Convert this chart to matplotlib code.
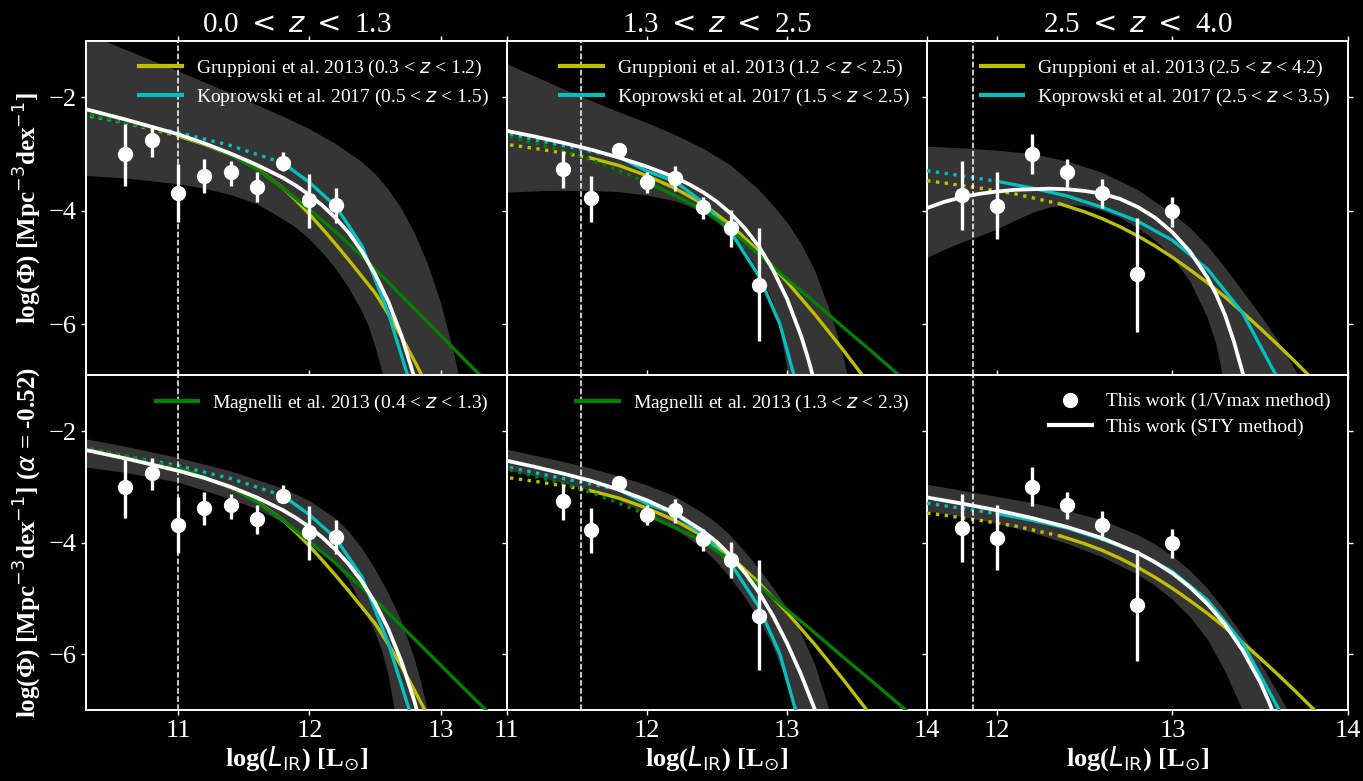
import numpy as np
import matplotlib
matplotlib.use("Agg")
import matplotlib.pyplot as plt
from matplotlib.lines import Line2D

plt.rcParams['font.family'] = 'serif'
plt.rcParams['font.serif'] = ['Liberation Serif', 'DejaVu Serif']
plt.rcParams['mathtext.fontset'] = 'dejavusans'

# ---------------- redshift bins ----------------
z_titles = ["0.0 $<$ $z$ $<$ 1.3", "1.3 $<$ $z$ $<$ 2.5", "2.5 $<$ $z$ $<$ 4.0"]
lum_limits = [11.0, 11.53, 11.86]
x_ranges = [(10.3, 13.5), (11.0, 14.0), (11.6, 14.0)]
x_ticks = [[11, 12, 13], [11, 12, 13, 14], [12, 13, 14]]

# ---------------- 1/Vmax points ----------------
vmax_lum_z1 = [10.6, 10.8, 11.0, 11.2, 11.4, 11.6, 11.8, 12.0, 12.2]
vmax_phi_z1 = [-3.00, -2.75, -3.68, -3.38, -3.32, -3.58, -3.16, -3.81, -3.89]
vmax_errhi_z1 = [0.53, 0.27, 0.50, 0.29, 0.20, 0.26, 0.19, 0.46, 0.29]
vmax_errlo_z1 = [0.56, 0.30, 0.51, 0.31, 0.25, 0.27, 0.13, 0.50, 0.32]

vmax_lum_z2 = [11.4, 11.6, 11.8, 12.0, 12.2, 12.4, 12.6, 12.8]
vmax_phi_z2 = [-3.26, -3.78, -2.93, -3.50, -3.42, -3.94, -4.31, -5.31]
vmax_errhi_z2 = [0.32, 0.40, 0.05, 0.18, 0.21, 0.18, 0.32, 1.00]
vmax_errlo_z2 = [0.33, 0.41, 0.05, 0.19, 0.23, 0.21, 0.32, 0.98]

vmax_lum_z3 = [11.8, 12.0, 12.2, 12.4, 12.6, 12.8, 13.0]
vmax_phi_z3 = [-3.73, -3.91, -3.00, -3.32, -3.69, -5.12, -4.01]
vmax_errhi_z3 = [0.61, 0.59, 0.35, 0.23, 0.25, 0.99, 0.26]
vmax_errlo_z3 = [0.61, 0.58, 0.35, 0.26, 0.26, 1.01, 0.27]

# ---------------- STY fits, free alpha (top row) ----------------
sty_lum_z1_free = [10.2, 10.4, 10.6, 10.8, 11.0, 11.2, 11.4, 11.6, 11.8, 11.9, 12.0, 12.1,
                   12.2, 12.3, 12.4, 12.5, 12.6, 12.7, 12.8, 12.85]
sty_phi_z1_free = [-2.15, -2.27, -2.39, -2.52, -2.65, -2.81, -2.99, -3.19, -3.42, -3.56, -3.72, -3.91,
                   -4.13, -4.39, -4.72, -5.12, -5.60, -6.20, -6.95, -7.40]
band_hi_lum_z1_free = [10.2, 10.6, 11.0, 11.4, 11.8, 12.0, 12.2, 12.4, 12.5, 12.6, 12.7, 12.8,
                       12.9, 13.0, 13.1, 13.15, 13.2]
band_hi_phi_z1_free = [-0.78, -1.16, -1.54, -1.93, -2.34, -2.56, -2.82, -3.14, -3.35, -3.62, -3.96, -4.39,
                       -4.93, -5.62, -6.50, -7.05, -7.60]
band_lo_lum_z1_free = [10.2, 10.6, 11.0, 11.2, 11.4, 11.6, 11.8, 11.9, 12.0, 12.1, 12.2, 12.3,
                       12.4, 12.45, 12.5, 12.55, 12.6]
band_lo_phi_z1_free = [-3.37, -3.43, -3.53, -3.61, -3.72, -3.88, -4.15, -4.30, -4.50, -4.74, -5.02, -5.36,
                       -5.77, -6.03, -6.38, -6.80, -7.30]

sty_lum_z2_free = [10.9, 11.0, 11.2, 11.4, 11.6, 11.8, 12.0, 12.2, 12.3, 12.4, 12.5, 12.6,
                   12.7, 12.8, 12.9, 13.0, 13.1, 13.15, 13.2, 13.25]
sty_phi_z2_free = [-2.54, -2.59, -2.69, -2.80, -2.92, -3.06, -3.22, -3.41, -3.53, -3.67, -3.84, -4.05,
                   -4.31, -4.63, -5.04, -5.55, -6.20, -6.60, -7.05, -7.50]
band_hi_lum_z2_free = [10.9, 11.0, 11.2, 11.4, 11.6, 11.8, 12.0, 12.2, 12.4, 12.6, 12.8, 12.9,
                       13.0, 13.1, 13.2, 13.3, 13.35, 13.4, 13.45, 13.5]
band_hi_phi_z2_free = [-1.31, -1.41, -1.63, -1.85, -2.06, -2.26, -2.45, -2.66, -2.90, -3.20, -3.63, -3.90,
                       -4.20, -4.57, -5.05, -5.72, -6.10, -6.55, -7.05, -7.60]
band_lo_lum_z2_free = [10.9, 11.0, 11.3, 11.6, 11.8, 12.0, 12.2, 12.3, 12.4, 12.5, 12.6, 12.7,
                       12.8, 12.9, 12.95, 13.0, 13.03]
band_lo_phi_z2_free = [-3.69, -3.68, -3.65, -3.65, -3.67, -3.73, -3.83, -3.92, -4.04, -4.20, -4.42, -4.70,
                       -5.08, -5.60, -6.05, -6.75, -7.20]

sty_lum_z3_free = [11.5, 11.6, 11.7, 11.8, 11.9, 12.0, 12.1, 12.2, 12.3, 12.4, 12.5, 12.6,
                   12.7, 12.8, 12.9, 13.0, 13.1, 13.2, 13.25, 13.3, 13.35, 13.4, 13.45]
sty_phi_z3_free = [-4.07, -3.95, -3.84, -3.76, -3.70, -3.66, -3.63, -3.62, -3.61, -3.62, -3.65, -3.70,
                   -3.79, -3.93, -4.12, -4.38, -4.72, -5.18, -5.48, -5.84, -6.30, -6.85, -7.50]
band_hi_lum_z3_free = [11.5, 11.6, 11.8, 12.0, 12.2, 12.4, 12.6, 12.8, 13.0, 13.1, 13.2, 13.3,
                       13.4, 13.5, 13.6, 13.7, 13.8]
band_hi_phi_z3_free = [-2.86, -2.87, -2.90, -2.94, -3.00, -3.13, -3.33, -3.63, -4.05, -4.30, -4.62, -5.00,
                       -5.41, -5.83, -6.28, -6.80, -7.40]
band_lo_lum_z3_free = [11.5, 11.6, 11.7, 11.8, 11.9, 12.0, 12.1, 12.2, 12.3, 12.4, 12.5, 12.6,
                       12.7, 12.8, 12.9, 13.0, 13.1, 13.2, 13.25, 13.3]
band_lo_phi_z3_free = [-4.97, -4.83, -4.69, -4.56, -4.45, -4.33, -4.18, -4.04, -3.94, -3.90, -3.92, -4.00,
                       -4.12, -4.30, -4.52, -4.82, -5.24, -5.88, -6.35, -7.10]

# ---------------- STY fits, alpha = -0.52 (bottom row) ----------------
sty_lum_z1_fix = [10.2, 10.6, 11.0, 11.2, 11.4, 11.6, 11.8, 11.9, 12.0, 12.1, 12.2, 12.3,
                  12.4, 12.5, 12.6, 12.7, 12.8, 12.85]
sty_phi_z1_fix = [-2.29, -2.49, -2.71, -2.84, -3.00, -3.19, -3.42, -3.56, -3.72, -3.91, -4.13, -4.39,
                  -4.70, -5.08, -5.55, -6.13, -6.85, -7.30]
band_hi_lum_z1_fix = [10.2, 10.6, 11.0, 11.4, 11.8, 12.0, 12.2, 12.3, 12.4, 12.5, 12.6, 12.7,
                      12.8, 12.85, 12.9, 12.95]
band_hi_phi_z1_fix = [-2.10, -2.28, -2.48, -2.72, -3.03, -3.25, -3.57, -3.80, -4.10, -4.47, -4.90, -5.40,
                      -6.08, -6.50, -7.00, -7.50]
band_lo_lum_z1_fix = [10.2, 10.6, 11.0, 11.4, 11.6, 11.8, 12.0, 12.1, 12.2, 12.3, 12.4, 12.5,
                      12.55, 12.6, 12.65, 12.7]
band_lo_phi_z1_fix = [-2.62, -2.75, -2.92, -3.22, -3.40, -3.64, -3.95, -4.14, -4.38, -4.68, -5.12, -5.60,
                      -5.92, -6.35, -7.00, -7.60]

sty_lum_z2_fix = [10.9, 11.0, 11.2, 11.4, 11.6, 11.8, 12.0, 12.2, 12.4, 12.5, 12.6, 12.7,
                  12.8, 12.9, 13.0, 13.1, 13.2, 13.25]
sty_phi_z2_fix = [-2.48, -2.53, -2.64, -2.76, -2.89, -3.05, -3.24, -3.47, -3.79, -3.99, -4.24, -4.54,
                  -4.89, -5.31, -5.80, -6.36, -7.00, -7.40]
band_hi_lum_z2_fix = [10.9, 11.0, 11.2, 11.4, 11.6, 11.8, 12.0, 12.2, 12.4, 12.5, 12.6, 12.7,
                      12.8, 12.9, 13.0, 13.1, 13.2, 13.3, 13.35]
band_hi_phi_z2_fix = [-2.28, -2.33, -2.44, -2.55, -2.67, -2.81, -2.97, -3.17, -3.47, -3.65, -3.88, -4.16,
                      -4.47, -4.80, -5.17, -5.62, -6.18, -6.98, -7.50]
band_lo_lum_z2_fix = [10.9, 11.0, 11.2, 11.4, 11.6, 11.8, 12.0, 12.2, 12.3, 12.4, 12.5, 12.6,
                      12.7, 12.8, 12.9, 13.0, 13.05, 13.1]
band_lo_phi_z2_fix = [-2.65, -2.70, -2.81, -2.93, -3.07, -3.25, -3.48, -3.76, -3.92, -4.11, -4.35, -4.64,
                      -4.98, -5.37, -5.85, -6.50, -7.00, -7.50]

sty_lum_z3_fix = [11.5, 11.6, 11.8, 12.0, 12.2, 12.4, 12.6, 12.8, 12.9, 13.0, 13.1, 13.2,
                  13.3, 13.4, 13.5, 13.55, 13.6]
sty_phi_z3_fix = [-3.14, -3.19, -3.30, -3.42, -3.56, -3.72, -3.92, -4.18, -4.35, -4.55, -4.80, -5.10,
                  -5.47, -5.93, -6.50, -6.85, -7.25]
band_hi_lum_z3_fix = [11.5, 11.6, 11.8, 12.0, 12.2, 12.4, 12.6, 12.8, 12.9, 13.0, 13.1, 13.2,
                      13.3, 13.4, 13.5, 13.6, 13.7]
band_hi_phi_z3_fix = [-2.91, -2.96, -3.07, -3.18, -3.29, -3.43, -3.60, -3.86, -4.03, -4.24, -4.50, -4.82,
                      -5.22, -5.66, -6.15, -6.68, -7.25]
band_lo_lum_z3_fix = [11.5, 11.6, 11.8, 12.0, 12.2, 12.4, 12.6, 12.8, 12.9, 13.0, 13.1, 13.2,
                      13.3, 13.4, 13.45]
band_lo_phi_z3_fix = [-3.39, -3.44, -3.54, -3.66, -3.82, -4.02, -4.26, -4.57, -4.77, -5.02, -5.33, -5.73,
                      -6.30, -7.00, -7.40]

# ---------------- literature luminosity functions ----------------
grup_labels = ["Gruppioni et al. 2013 (0.3 < $z$ < 1.2)",
               "Gruppioni et al. 2013 (1.2 < $z$ < 2.5)",
               "Gruppioni et al. 2013 (2.5 < $z$ < 4.2)"]
kopr_labels = ["Koprowski et al. 2017 (0.5 < $z$ < 1.5)",
               "Koprowski et al. 2017 (1.5 < $z$ < 2.5)",
               "Koprowski et al. 2017 (2.5 < $z$ < 3.5)"]
magn_labels = ["Magnelli et al. 2013 (0.4 < $z$ < 1.3)",
               "Magnelli et al. 2013 (1.3 < $z$ < 2.3)"]

grup_lum_z1 = [10.2, 10.6, 11.0, 11.2, 11.4, 11.6, 11.8, 11.9, 12.0, 12.1, 12.2, 12.3,
               12.4, 12.5, 12.6, 12.7, 12.8, 12.9]
grup_phi_z1 = [-2.25, -2.45, -2.68, -2.83, -3.01, -3.26, -3.60, -3.82, -4.06, -4.32, -4.59, -4.87,
               -5.16, -5.45, -5.82, -6.22, -6.65, -7.10]
grup_lum_z2 = [10.9, 11.0, 11.2, 11.4, 11.6, 11.8, 12.0, 12.2, 12.4, 12.6, 12.8, 13.0,
               13.2, 13.4, 13.6]
grup_phi_z2 = [-2.80, -2.83, -2.90, -2.98, -3.07, -3.20, -3.38, -3.60, -3.88, -4.25, -4.72, -5.25,
               -5.83, -6.45, -7.10]
grup_lum_z3 = [11.5, 11.7, 11.9, 12.1, 12.3, 12.36, 12.4, 12.5, 12.6, 12.7, 12.8, 12.9, 13.0,
               13.1, 13.2, 13.3, 13.4, 13.5, 13.6, 13.7, 13.8, 13.9]
grup_phi_z3 = [-3.43, -3.51, -3.60, -3.70, -3.84, -3.88, -3.92, -4.02, -4.14, -4.28, -4.44, -4.62, -4.82,
               -5.04, -5.27, -5.52, -5.79, -6.07, -6.36, -6.66, -6.97, -7.30]
grup_cuts = [11.0, 11.6, 12.36]

kopr_lum_z1 = [10.2, 10.6, 11.0, 11.4, 11.8, 12.0, 12.2, 12.4, 12.6, 12.8]
kopr_phi_z1 = [-2.28, -2.45, -2.62, -2.85, -3.16, -3.50, -3.92, -4.62, -5.80, -7.3]
kopr_lum_z2 = [10.9, 11.0, 11.4, 11.8, 12.0, 12.2, 12.4, 12.6, 12.8, 12.95, 13.0, 13.05, 13.1]
kopr_phi_z2 = [-2.60, -2.64, -2.85, -3.05, -3.30, -3.48, -3.85, -4.38, -5.15, -6.00, -6.45, -6.90, -7.3]
kopr_lum_z3 = [11.5, 11.64, 12.0, 12.2, 12.4, 12.6, 12.8, 13.0, 13.2, 13.4, 13.6, 13.65]
kopr_phi_z3 = [-3.25, -3.31, -3.48, -3.60, -3.74, -3.94, -4.18, -4.52, -5.03, -5.80, -6.95, -7.3]
kopr_cuts = [11.8, 11.8, 12.0]

magn_lum_z1 = [10.2, 10.6, 11.0, 11.2, 11.4, 11.6, 11.8, 12.0, 12.2, 12.4, 12.6, 12.8,
               13.0, 13.2, 13.4]
magn_phi_z1 = [-2.24, -2.44, -2.66, -2.82, -3.01, -3.27, -3.60, -3.98, -4.37, -4.80, -5.26, -5.73,
               -6.20, -6.67, -7.13]
magn_lum_z2 = [10.9, 11.0, 11.2, 11.4, 11.6, 11.8, 12.0, 12.2, 12.4, 12.6, 12.8, 13.0,
               13.2, 13.4, 13.6, 13.8, 14.0]
magn_phi_z2 = [-2.62, -2.68, -2.81, -2.94, -3.10, -3.29, -3.50, -3.73, -3.98, -4.33, -4.77, -5.20,
               -5.62, -6.05, -6.47, -6.90, -7.32]
magn_cuts = [11.0, 12.0]

# ---------------- styling ----------------
c_grup = '#bfbf00'
c_kopr = '#00bfbf'
c_magn = '#008000'
c_band = '#353535'
lw_curve = 2.4

vmax = [(vmax_lum_z1, vmax_phi_z1, vmax_errlo_z1, vmax_errhi_z1),
        (vmax_lum_z2, vmax_phi_z2, vmax_errlo_z2, vmax_errhi_z2),
        (vmax_lum_z3, vmax_phi_z3, vmax_errlo_z3, vmax_errhi_z3)]
sty_rows = [
    [(sty_lum_z1_free, sty_phi_z1_free, band_hi_lum_z1_free, band_hi_phi_z1_free, band_lo_lum_z1_free, band_lo_phi_z1_free),
     (sty_lum_z2_free, sty_phi_z2_free, band_hi_lum_z2_free, band_hi_phi_z2_free, band_lo_lum_z2_free, band_lo_phi_z2_free),
     (sty_lum_z3_free, sty_phi_z3_free, band_hi_lum_z3_free, band_hi_phi_z3_free, band_lo_lum_z3_free, band_lo_phi_z3_free)],
    [(sty_lum_z1_fix, sty_phi_z1_fix, band_hi_lum_z1_fix, band_hi_phi_z1_fix, band_lo_lum_z1_fix, band_lo_phi_z1_fix),
     (sty_lum_z2_fix, sty_phi_z2_fix, band_hi_lum_z2_fix, band_hi_phi_z2_fix, band_lo_lum_z2_fix, band_lo_phi_z2_fix),
     (sty_lum_z3_fix, sty_phi_z3_fix, band_hi_lum_z3_fix, band_hi_phi_z3_fix, band_lo_lum_z3_fix, band_lo_phi_z3_fix)],
]
grup = [(grup_lum_z1, grup_phi_z1), (grup_lum_z2, grup_phi_z2), (grup_lum_z3, grup_phi_z3)]
kopr = [(kopr_lum_z1, kopr_phi_z1), (kopr_lum_z2, kopr_phi_z2), (kopr_lum_z3, kopr_phi_z3)]
magn = [(magn_lum_z1, magn_phi_z1), (magn_lum_z2, magn_phi_z2)]
y_ranges = [(-6.9, -1.0), (-7.0, -1.0)]


def draw_lit(ax, lum, phi, cut, color):
    lum = np.asarray(lum)
    phi = np.asarray(phi)
    faint = lum <= cut
    bright = lum >= cut
    ax.plot(lum[faint], phi[faint], ls=':', color=color, lw=lw_curve, zorder=3)
    ax.plot(lum[bright], phi[bright], ls='-', color=color, lw=lw_curve, zorder=3,
            solid_joinstyle='round')


fig = plt.figure(figsize=(13.63, 7.81), dpi=100, facecolor='black')
axes = fig.subplots(2, 3, gridspec_kw=dict(left=0.0631, right=0.9888, top=0.948,
                                            bottom=0.0909, wspace=0, hspace=0))

for row in range(2):
    for col in range(3):
        ax = axes[row, col]
        ax.set_facecolor('black')
        sl, sp, hl, hp, ll, lp = sty_rows[row][col]
        ax.fill(np.concatenate([hl, ll[::-1]]), np.concatenate([hp, lp[::-1]]),
                color=c_band, lw=0, zorder=1)
        draw_lit(ax, *grup[col], grup_cuts[col], c_grup)
        draw_lit(ax, *kopr[col], kopr_cuts[col], c_kopr)
        if col < 2:
            draw_lit(ax, *magn[col], magn_cuts[col], c_magn)
        ax.plot(sl, sp, color='white', lw=lw_curve + 0.3, zorder=4, solid_joinstyle='round')
        lum, phi, elo, ehi = vmax[col]
        ax.errorbar(lum, phi, yerr=[elo, ehi], fmt='o', color='white', ms=10,
                    elinewidth=2.4, capsize=0, zorder=6)
        ax.axvline(lum_limits[col], color='white', ls='--', lw=1.1, zorder=5)

        ax.set_xlim(*x_ranges[col])
        ax.set_ylim(*y_ranges[row])
        ax.set_xticks(x_ticks[col])
        ax.set_yticks([-2, -4, -6])
        for sp_ in ax.spines.values():
            sp_.set_color('white')
            sp_.set_linewidth(1.4)
        ax.tick_params(direction='out', top=True, right=True, length=3.5, width=1.0,
                       colors='white', labelsize=19)
        if row == 0:
            ax.tick_params(labelbottom=False)
            ax.set_title(z_titles[col], color='white', fontsize=21, pad=6)
        else:
            ax.set_xlabel(r"log($L_{\rm IR}$) [L$_{\odot}$]", color='white',
                          fontsize=19, fontweight='bold', labelpad=2)
        if col > 0:
            ax.tick_params(labelleft=False)

axes[0, 0].set_ylabel("log(Φ) [Mpc$^{-3}$dex$^{-1}$]", color='white',
                      fontsize=18, fontweight='bold', labelpad=3)
axes[1, 0].set_ylabel("log(Φ) [Mpc$^{-3}$dex$^{-1}$] ($\\alpha$ = -0.52)", color='white',
                      fontsize=18, fontweight='bold', labelpad=3)

leg_kw = dict(loc='upper right', frameon=False, fontsize=14, labelcolor='white',
              handlelength=2.2, handletextpad=0.72, labelspacing=0.38)
for col in range(3):
    handles = [Line2D([], [], color=c_grup, lw=3), Line2D([], [], color=c_kopr, lw=3)]
    axes[0, col].legend(handles, [grup_labels[col], kopr_labels[col]], **leg_kw)
for col in range(2):
    axes[1, col].legend([Line2D([], [], color=c_magn, lw=3)], [magn_labels[col]], **leg_kw)
axes[1, 2].legend([Line2D([], [], color='white', marker='o', ls='none', ms=10),
                   Line2D([], [], color='white', lw=3)],
                  ["This work (1/Vmax method)", "This work (STY method)"], **leg_kw)

fig.savefig("out.png", dpi=100, facecolor='black')
